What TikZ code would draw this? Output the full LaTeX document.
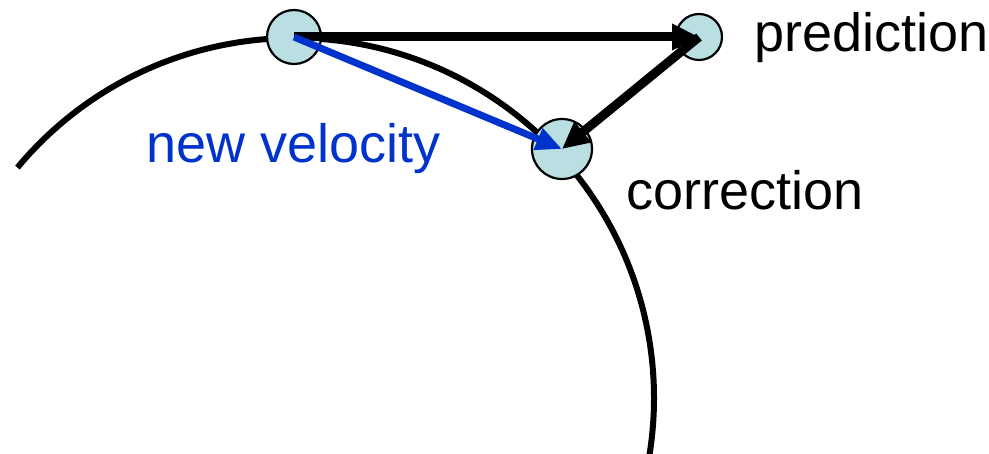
\documentclass[tikz,border=0pt]{standalone}
\usepackage{fontspec}
\setmainfont{Liberation Sans}
\usetikzlibrary{arrows.meta}
\definecolor{ballfill}{RGB}{185,223,226}
\definecolor{velblue}{RGB}{0,51,204}
\tikzset{
  ball/.style={circle, draw=black, line width=2.2pt, fill=ballfill, inner sep=0pt},
  orbit/.style={line width=6pt, black},
  vecarrow/.style={line width=9pt, black, -{Triangle[length=27pt,width=25pt]}},
  bluearrow/.style={line width=7pt, velblue, -{Triangle[length=26pt,width=22pt]}},
  lbl/.style={anchor=base west, inner sep=0pt, font=\fontsize{54}{62}\selectfont}
}
\begin{document}
\begin{tikzpicture}[x=1pt,y=1pt]
\useasboundingbox (0,0) rectangle (989,-454);
% orbit arc
\coordinate (oc) at (294,-398);
\draw[orbit] (oc) ++(140.2:360) arc[start angle=140.2, end angle=-11, radius=360];
% balls
\node[ball, minimum size=54pt] (cur) at (294,-37) {};
\node[ball, minimum size=46pt] (pred) at (699,-37) {};
\node[ball, minimum size=60pt] (corr) at (562,-149) {};
% arrows
\draw[vecarrow] (cur.center) -- (pred.center);
\draw[vecarrow] (pred.center) -- (corr.center);
\draw[bluearrow] (cur.center) -- (corr.center);
% labels
\node[lbl] (tpred) at (754,-52) {prediction};
\node[lbl] (tcorr) at (626,-210) {correction};
\node[lbl, text=velblue] (tvel) at (146,-163) {new velocity};
\end{tikzpicture}
\end{document}
